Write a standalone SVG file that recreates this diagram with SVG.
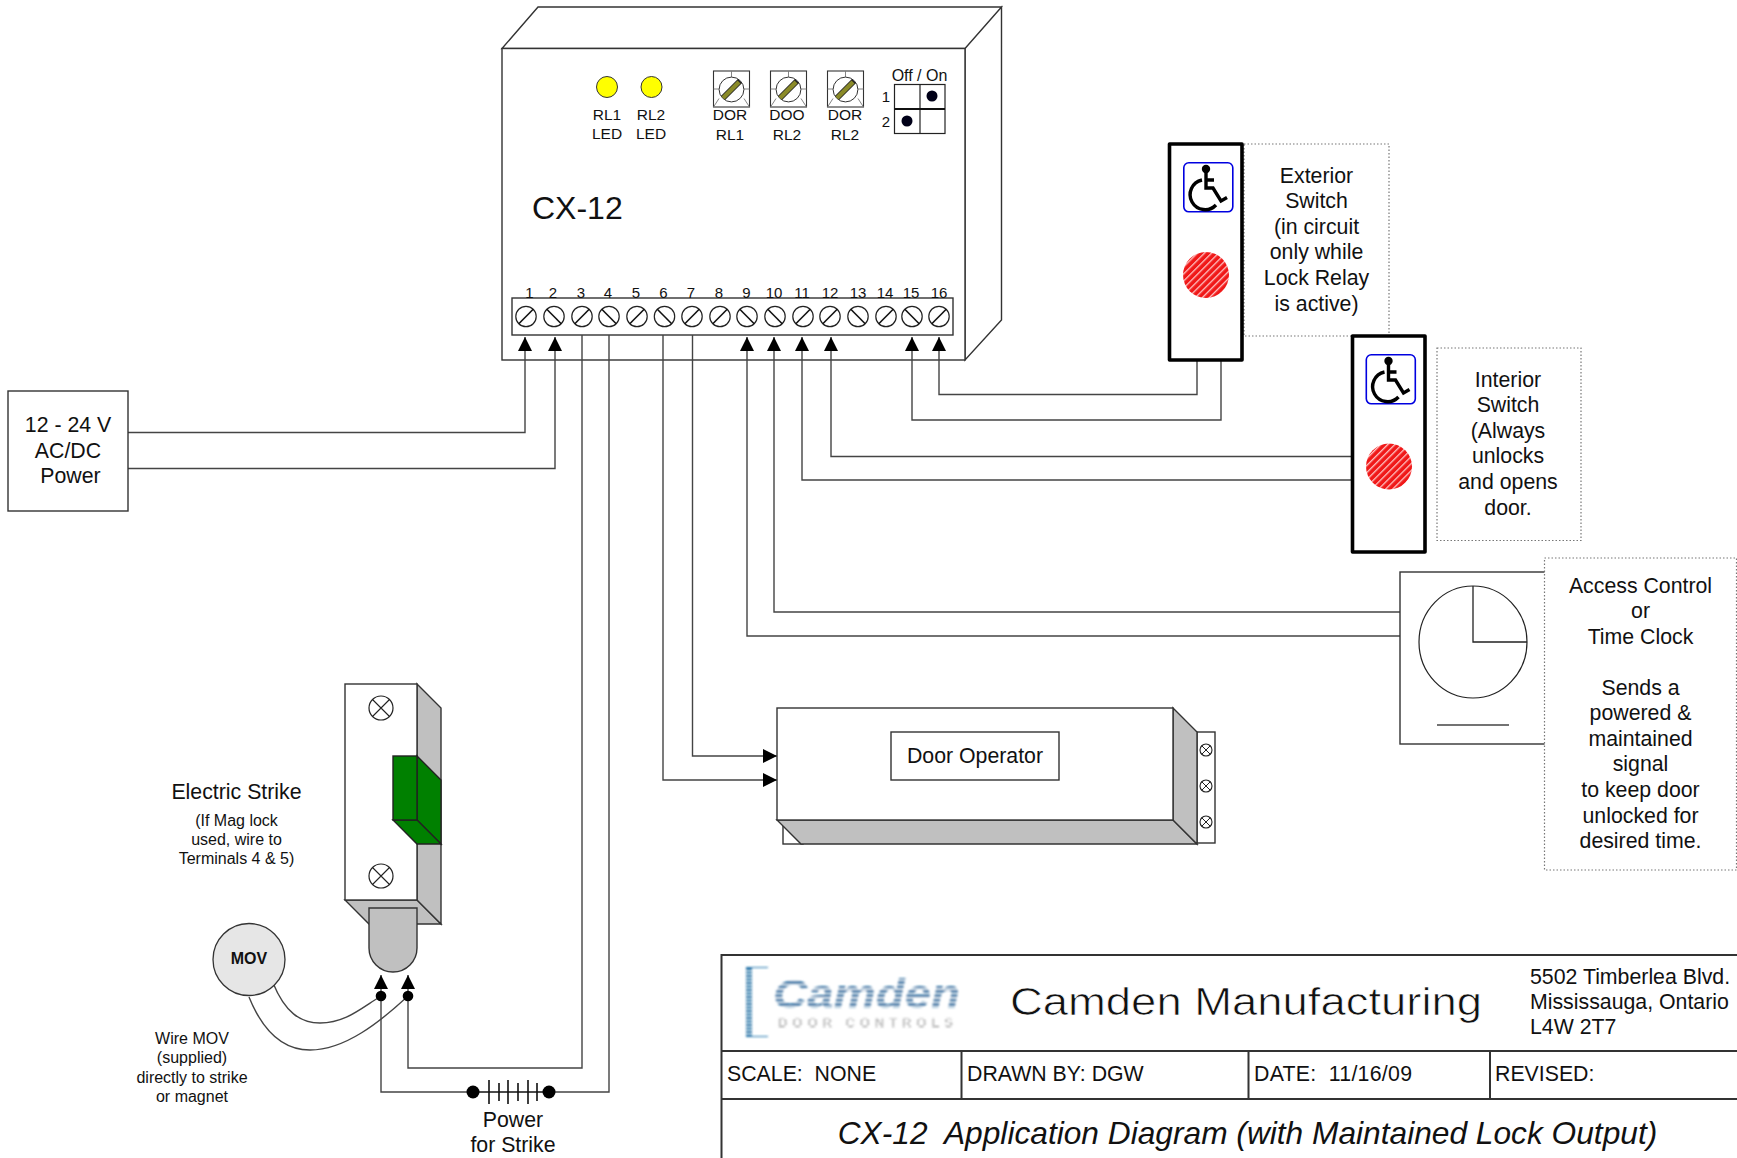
<svg xmlns="http://www.w3.org/2000/svg" width="1737" height="1158" viewBox="0 0 1737 1158">
<style>
text{font-family:"Liberation Sans",Arial,sans-serif;fill:#111;text-anchor:middle}
.f21{font-size:21.3px}.f16{font-size:16px}.f15{font-size:15.5px}.f14{font-size:15px}
.l{text-anchor:start}
.sh{fill:#fff;stroke:#333;stroke-width:1.4}
.gr{fill:#c0c0c0;stroke:#333;stroke-width:1.4}
.gn{fill:#008000;stroke:#222;stroke-width:1.4}
.dot{fill:#fff;stroke:#777;stroke-width:1.2;stroke-dasharray:1.5 2}
.w{fill:none;stroke:#444;stroke-width:1.4}
.sw{fill:#fff;stroke:#000;stroke-width:3.6;stroke-linejoin:round}
.tl{stroke:#333;stroke-width:2;fill:none}
.bar{stroke:#111;stroke-width:1.6}
</style>
<defs>
<marker id="arr" markerUnits="userSpaceOnUse" markerWidth="15" markerHeight="15" refX="14" refY="7" orient="auto"><path d="M0 0L14 7L0 14Z" fill="#000"/></marker>
<pattern id="hatch" width="5" height="5" patternUnits="userSpaceOnUse" patternTransform="rotate(-45)"><rect width="5" height="5" fill="#f01818"/><rect y="0" width="5" height="1.3" fill="#ffc8c8"/></pattern>
<pattern id="st" width="6" height="4.4" patternUnits="userSpaceOnUse"><rect width="6" height="2.6" fill="#1a6aa0"/><rect y="2.6" width="6" height="1.8" fill="#e4eef4"/></pattern>
<pattern id="stg" width="6" height="3" patternUnits="userSpaceOnUse"><rect width="6" height="1.6" fill="#666"/><rect y="1.6" width="6" height="1.4" fill="#eee"/></pattern>
<filter id="bl" x="-5%" y="-5%" width="110%" height="110%"><feGaussianBlur stdDeviation="0.9"/></filter>
<g id="wc"><rect x="0.8" y="0.8" width="49" height="49" rx="5" fill="#fff" stroke="#0000e0" stroke-width="1.6"/><circle cx="23" cy="7" r="4.2" fill="#000"/><path d="M23 7V26H30L38 39L44 35.500M23 18H31M19 18A15 15 0 1 0 33 43" fill="none" stroke="#000" stroke-width="3.400"/></g>
<g id="t1"><circle r="10.2" fill="#fff" stroke="#222" stroke-width="1.2"/><path d="M-7.2 7.2L7.2 -7.2" stroke="#111" stroke-width="1.6"/></g>
<g id="t2"><circle r="10.2" fill="#fff" stroke="#222" stroke-width="1.2"/><path d="M-7.2 -7.2L7.2 7.2" stroke="#111" stroke-width="1.6"/></g>
<g id="dial"><rect x="0.5" y="0.5" width="36" height="36" fill="#fff" stroke="#333" stroke-width="1.1"/><path d="M18.500 0.500V6.500M0.500 18.500H6.500M30.500 18.500H36.500M6 28L0.500 36.500M31 28L36.500 36.500" stroke="#777" stroke-width="0.9"/><circle cx="18.500" cy="19" r="12.400" fill="#fff" stroke="#333" stroke-width="1"/><path d="M10 27.500L27 10.500" stroke="#222" stroke-width="6"/><path d="M10 27.500L26 11.500" stroke="#8a8a28" stroke-width="4.200"/></g>
<g id="xs"><circle r="12" fill="#fff" stroke="#222" stroke-width="1.2"/><path d="M-8.500 -8.500L8.500 8.500M-8.500 8.500L8.500 -8.500" stroke="#222" stroke-width="1.1"/></g>
<g id="xt"><circle r="6" fill="#fff" stroke="#222" stroke-width="1.1"/><path d="M-4.200 -4.200L4.200 4.200M-4.200 4.200L4.200 -4.200" stroke="#222"/></g>
</defs>
<rect width="1737" height="1158" fill="#fff"/>

<g id="cx12">
<path class="sh" d="M502 48.500L538 7H1001.500L965 48.500ZM965 48.500L1001.500 7V320L965 360Z"/>
<rect class="sh" x="502" y="48.500" width="463" height="311.500"/>
<circle cx="607" cy="87" r="10.500" fill="#ffff00" stroke="#333"/><circle cx="651.500" cy="87" r="10.500" fill="#ffff00" stroke="#333"/>
<text class="f15"><tspan x="607" y="119.500">RL1</tspan><tspan x="607" y="138.500">LED</tspan></text>
<text class="f15"><tspan x="651" y="119.500">RL2</tspan><tspan x="651" y="138.500">LED</tspan></text>
<use href="#dial" x="713" y="70.500"/><use href="#dial" x="770" y="70.500"/><use href="#dial" x="827" y="70.500"/>
<text class="f15"><tspan x="730" y="120">DOR</tspan><tspan x="730" y="140">RL1</tspan></text>
<text class="f15"><tspan x="787" y="120">DOO</tspan><tspan x="787" y="140">RL2</tspan></text>
<text class="f15"><tspan x="845" y="120">DOR</tspan><tspan x="845" y="140">RL2</tspan></text>
<text class="f16" x="919.500" y="81">Off / On</text>
<text class="f14" x="886" y="102">1</text><text class="f14" x="886" y="127">2</text>
<rect x="894.500" y="84.500" width="50.500" height="49" fill="#fff" stroke="#222" stroke-width="1.2"/>
<path d="M920 84.500V133.500" stroke="#222" stroke-width="1.2"/><path d="M894.500 109H945" stroke="#111" stroke-width="2"/>
<circle cx="932" cy="96" r="5.500" fill="#000018"/><circle cx="907" cy="121" r="5.500" fill="#000018"/>
<text x="532" y="218.500" font-size="32" class="l">CX-12</text>
<rect class="sh" x="512" y="298" width="441" height="37"/>
<g class="f14">
<text x="529.500" y="297.500">1</text><text x="553" y="297.500">2</text><text x="581" y="297.500">3</text><text x="608" y="297.500">4</text><text x="636" y="297.500">5</text><text x="663.500" y="297.500">6</text><text x="691" y="297.500">7</text><text x="719" y="297.500">8</text><text x="746.500" y="297.500">9</text><text x="774" y="297.500">10</text><text x="802" y="297.500">11</text><text x="830" y="297.500">12</text><text x="858" y="297.500">13</text><text x="885" y="297.500">14</text><text x="911" y="297.500">15</text><text x="939" y="297.500">16</text>
</g>
<use href="#t1" x="526" y="316.500"/><use href="#t2" x="554" y="316.500"/><use href="#t1" x="582" y="316.500"/><use href="#t2" x="609" y="316.500"/><use href="#t1" x="637" y="316.500"/><use href="#t2" x="664.500" y="316.500"/><use href="#t1" x="692" y="316.500"/><use href="#t1" x="720" y="316.500"/><use href="#t2" x="747" y="316.500"/><use href="#t2" x="775" y="316.500"/><use href="#t1" x="803" y="316.500"/><use href="#t1" x="830" y="316.500"/><use href="#t2" x="858" y="316.500"/><use href="#t1" x="886" y="316.500"/><use href="#t2" x="912" y="316.500"/><use href="#t1" x="939" y="316.500"/>
</g>

<g id="connectors">
<path class="w" marker-end="url(#arr)" d="M128 432.500H525V337"/>
<path class="w" marker-end="url(#arr)" d="M128 468.500H555V337"/>
<path class="w" d="M582 335V1068H408V975" marker-end="url(#arr)"/>
<path class="w" d="M609 335V1092H549M473 1092H381V975" marker-end="url(#arr)"/>
<path class="w" d="M663 335V780H777" marker-end="url(#arr)"/>
<path class="w" d="M692.500 335V756H777" marker-end="url(#arr)"/>
<path class="w" d="M1400 636H747V337" marker-end="url(#arr)"/>
<path class="w" d="M1400 612H774V337" marker-end="url(#arr)"/>
<path class="w" d="M1353 480H802V337" marker-end="url(#arr)"/>
<path class="w" d="M1353 456.500H831V337" marker-end="url(#arr)"/>
<path class="w" d="M1221 360V420H912V337" marker-end="url(#arr)"/>
<path class="w" d="M1197 360V394.500H939V337" marker-end="url(#arr)"/>
<path class="w" d="M273 983C285 1012 300 1023 320 1023C345 1023 360 1009 381 996"/>
<path class="w" d="M249 997C264 1034 285 1050 310 1050C345 1050 380 1022 408 996"/>
</g>

<g id="power"><rect class="sh" x="8" y="391" width="120" height="120"/>
<text class="f21"><tspan x="68" y="431.500">12 - 24 V</tspan><tspan x="68" y="457.500">AC/DC</tspan><tspan x="70.500" y="483">Power</tspan></text></g>

<g id="exterior-switch">
<rect class="dot" x="1244" y="144" width="145" height="192"/>
<rect class="sw" x="1169.500" y="144" width="72.500" height="216"/>
<use href="#wc" x="1183" y="162"/>
<circle cx="1206" cy="275" r="23" fill="url(#hatch)"/>
<text class="f21"><tspan x="1316.500" y="182.500">Exterior</tspan><tspan x="1316.500" y="208">Switch</tspan><tspan x="1316.500" y="233.500">(in circuit</tspan><tspan x="1316.500" y="259">only while</tspan><tspan x="1316.500" y="285">Lock Relay</tspan><tspan x="1316.500" y="310.500">is active)</tspan></text>
</g>

<g id="interior-switch">
<rect class="dot" x="1437" y="348" width="144" height="192.500"/>
<rect class="sw" x="1352.500" y="336" width="72.500" height="216"/>
<use href="#wc" x="1365.500" y="354"/>
<circle cx="1389" cy="466.500" r="23" fill="url(#hatch)"/>
<text class="f21"><tspan x="1508" y="386.500">Interior</tspan><tspan x="1508" y="412">Switch</tspan><tspan x="1508" y="437.500">(Always</tspan><tspan x="1508" y="463">unlocks</tspan><tspan x="1508" y="489">and opens</tspan><tspan x="1508" y="514.500">door.</tspan></text>
</g>

<g id="access-control">
<rect class="sh" x="1400" y="572" width="160" height="172"/>
<ellipse cx="1473" cy="642" rx="54" ry="56" fill="#fff" stroke="#222" stroke-width="1.2"/>
<path d="M1473 586V642H1527" fill="none" stroke="#222" stroke-width="1.3"/>
<path d="M1437 725H1509" stroke="#444" stroke-width="1.3"/>
<rect class="dot" x="1544.500" y="558" width="192" height="312"/>
<text class="f21"><tspan x="1640.500" y="592.500">Access Control</tspan><tspan x="1640.500" y="618">or</tspan><tspan x="1640.500" y="643.500">Time Clock</tspan><tspan x="1640.500" y="694.500">Sends a</tspan><tspan x="1640.500" y="720">powered &amp;</tspan><tspan x="1640.500" y="745.500">maintained</tspan><tspan x="1640.500" y="771">signal</tspan><tspan x="1640.500" y="797">to keep door</tspan><tspan x="1640.500" y="822.500">unlocked for</tspan><tspan x="1640.500" y="848">desired time.</tspan></text>
</g>

<g id="door-operator">
<rect class="sh" x="783" y="820" width="20" height="24"/>
<rect class="sh" x="1197" y="732" width="18" height="111"/>
<use href="#xt" x="1206" y="750"/><use href="#xt" x="1206" y="786"/><use href="#xt" x="1206" y="822"/>
<path class="gr" d="M777 820H1173L1197 844H801Z"/><path class="gr" d="M1173 708L1197 732V844L1173 820Z"/>
<rect class="sh" x="777" y="708" width="396" height="112"/>
<rect class="sh" x="891" y="732" width="168" height="48"/>
<text class="f21" x="975" y="762.500">Door Operator</text>
</g>

<g id="electric-strike">
<path class="gr" d="M345 900H417L441 924H369Z"/><path class="gr" d="M417 684L441 708V924L417 900Z"/>
<rect class="sh" x="345" y="684" width="72" height="216"/>
<use href="#xs" x="381" y="708"/><use href="#xs" x="381" y="876"/>
<path class="gn" d="M417 756L441 780V844L417 820Z"/><path class="gn" d="M393 820H417L441 844H417Z"/><rect class="gn" x="393" y="756" width="24" height="64"/>
<path class="gr" d="M369 908H417V948A24 24 0 0 1 369 948Z"/>
<text class="f21" x="236.500" y="798.500">Electric Strike</text>
<text class="f16"><tspan x="236.500" y="825.500">(If Mag lock</tspan><tspan x="236.500" y="844.500">used, wire to</tspan><tspan x="236.500" y="863.500">Terminals 4 &amp; 5)</tspan></text>
</g>

<g id="mov">
<circle cx="249" cy="959.500" r="36" fill="#e6e6e6" stroke="#333" stroke-width="1.3"/>
<text x="249" y="964" font-size="16" font-weight="bold">MOV</text>
<text class="f16"><tspan x="192" y="1043.500">Wire MOV</tspan><tspan x="192" y="1062.500">(supplied)</tspan><tspan x="192" y="1082.500">directly to strike</tspan><tspan x="192" y="1101.500">or magnet</tspan></text>
<circle cx="381" cy="996" r="5.300" fill="#000"/><circle cx="408" cy="996" r="5.300" fill="#000"/>
</g>

<g id="strike-power">
<path d="M473 1092H549" stroke="#111" stroke-width="1.3"/>
<circle cx="473" cy="1092" r="6.500" fill="#000"/><circle cx="549" cy="1092" r="6.500" fill="#000"/>
<path class="bar" d="M489 1080V1104M499 1083V1101M508 1080V1104M518 1083V1101M528 1080V1104M537 1083V1101"/>
<text class="f21"><tspan x="513" y="1127">Power</tspan><tspan x="513" y="1152">for Strike</tspan></text>
</g>

<g id="title-block">
<path class="tl" d="M1737 955H721.500V1158M722 1051H1737M722 1099H1737M961.500 1051V1099M1248.500 1051V1099M1490 1051V1099"/>
<g filter="url(#bl)">
<path d="M749 968V1036" stroke="#1a6aa0" stroke-width="6" stroke-dasharray="2 1.500" fill="none"/>
<path d="M746 967.500H768M746 1036.500H768" stroke="#2a7ab0" stroke-width="1.200"/>
<text class="l" x="773" y="1008" font-size="40" font-weight="bold" font-style="italic" style="fill:url(#st)" textLength="187" lengthAdjust="spacingAndGlyphs">Camden</text>
<text class="l" x="778" y="1027" font-size="13" font-weight="bold" style="fill:url(#stg)" textLength="175" lengthAdjust="spacing">DOOR CONTROLS</text>
</g>
<text class="l" x="1010" y="1015" font-size="38.500" style="stroke:#fff;stroke-width:0.7;paint-order:normal" textLength="472" lengthAdjust="spacingAndGlyphs">Camden Manufacturing</text>
<text class="f21 l"><tspan x="1530" y="983.500">5502 Timberlea Blvd.</tspan><tspan x="1530" y="1009">Mississauga, Ontario</tspan><tspan x="1530" y="1034">L4W 2T7</tspan></text>
<text class="f21 l" x="727" y="1081">SCALE:&#160; NONE</text>
<text class="f21 l" x="967" y="1081">DRAWN BY: DGW</text>
<text class="f21 l" x="1254" y="1081" textLength="158" lengthAdjust="spacing">DATE:&#160; 11/16/09</text>
<text class="f21 l" x="1495" y="1081">REVISED:</text>
<text x="1247.500" y="1144" font-size="31.7" font-style="italic">CX-12&#160; Application Diagram (with Maintained Lock Output)</text>
</g>
</svg>
